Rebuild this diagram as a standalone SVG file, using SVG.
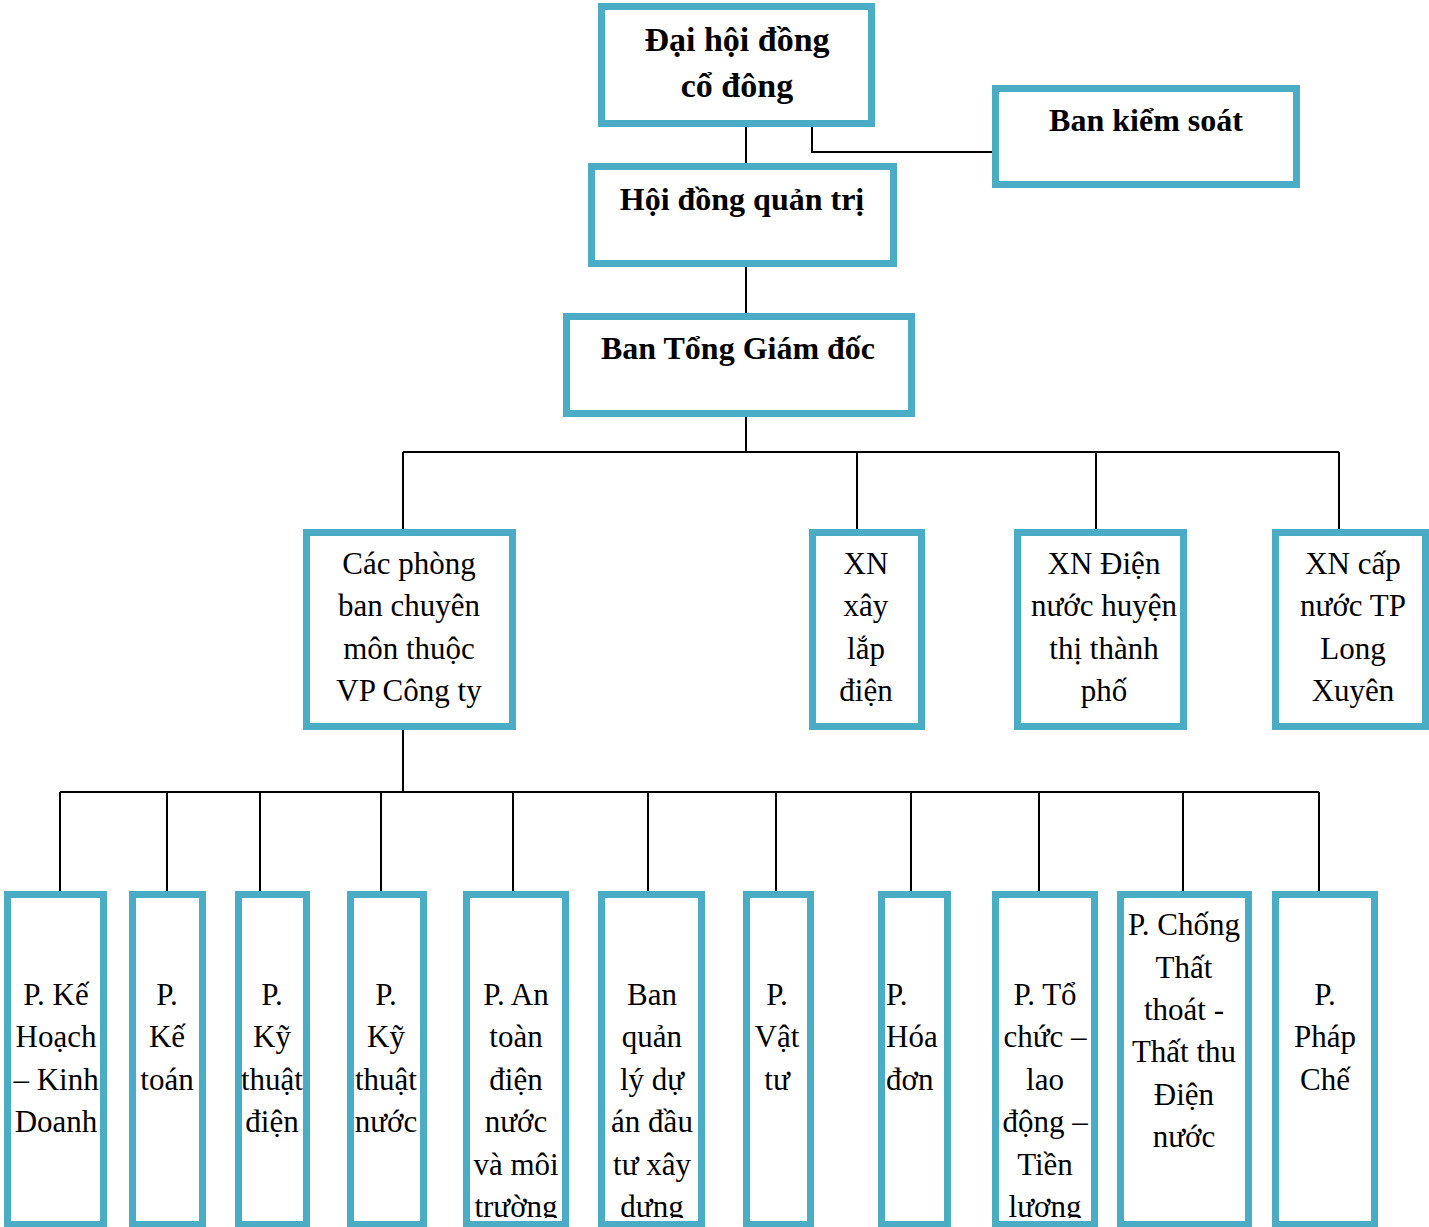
<svg xmlns="http://www.w3.org/2000/svg" width="1429" height="1227" viewBox="0 0 1429 1227">
<style>
.box{fill:#fff;stroke:#4BACC6;stroke-width:7}
.ln{fill:none;stroke:#000;stroke-width:2}
.b{font-family:"Liberation Serif","Times New Roman",serif;font-weight:bold;font-size:32px;fill:#000;text-anchor:middle}
.big{font-size:34px}
.r{font-family:"Liberation Serif","Times New Roman",serif;font-size:31px;fill:#000;text-anchor:middle}
.l{text-anchor:start}
</style>
<defs>
<clipPath id="clipB"><rect x="0" y="0" width="1429" height="1218"/></clipPath>
</defs>
<rect width="1429" height="1227" fill="#fff"/>
<g id="connectors">
<path class="ln" d="M746 127V163M812 127V152H995M746 267V313M746 416V452M403 452H1339M403 452V529M857 452V529M1096 452V529M1339 452V529"/>
<path class="ln" d="M403 730V792M60 792H1319M60 792V891M167 792V891M260 792V891M381 792V891M513 792V891M648 792V891M776 792V891M911 792V891M1039 792V891M1183 792V891M1319 792V891"/>
</g>
<g id="dhdcd"><rect class="box" x="601.5" y="6.5" width="270" height="117"/><text class="b big" x="737" y="51">Đại hội đồng</text><text class="b big" x="737" y="97">cổ đông</text></g>
<g id="bks"><rect class="box" x="995.5" y="88.5" width="301" height="96"/><text class="b" x="1146" y="131">Ban kiểm soát</text></g>
<g id="hdqt"><rect class="box" x="591.5" y="166.5" width="302" height="97"/><text class="b" x="742" y="210">Hội đồng quản trị</text></g>
<g id="btgd"><rect class="box" x="566.5" y="316.5" width="345" height="97"/><text class="b" x="738" y="359">Ban Tổng Giám đốc</text></g>
<g id="cacphong"><rect class="box" x="306.5" y="532.5" width="206" height="194"/><text class="r" x="409"><tspan x="409" y="574">Các phòng</tspan><tspan x="409" y="616">ban chuyên</tspan><tspan x="409" y="659">môn thuộc</tspan><tspan x="409" y="701">VP Công ty</tspan></text></g>
<g id="xnxl"><rect class="box" x="812.5" y="532.5" width="109" height="194"/><text class="r"><tspan x="866" y="574">XN</tspan><tspan x="866" y="616">xây</tspan><tspan x="866" y="659">lắp</tspan><tspan x="866" y="701">điện</tspan></text></g>
<g id="xnd"><rect class="box" x="1017.5" y="532.5" width="166" height="194"/><text class="r"><tspan x="1104" y="574">XN Điện</tspan><tspan x="1104" y="616">nước huyện</tspan><tspan x="1104" y="659">thị thành</tspan><tspan x="1104" y="701">phố</tspan></text></g>
<g id="xncn"><rect class="box" x="1275.5" y="532.5" width="150" height="194"/><text class="r"><tspan x="1353" y="574">XN cấp</tspan><tspan x="1353" y="616">nước TP</tspan><tspan x="1353" y="659">Long</tspan><tspan x="1353" y="701">Xuyên</tspan></text></g>
<g id="bottom-boxes">
<g id="pkh"><rect class="box" x="7.5" y="894.5" width="96" height="330"/><text class="r" clip-path="url(#clipB)"><tspan x="56" y="1005">P. Kế</tspan><tspan x="56" y="1047">Hoạch</tspan><tspan x="56" y="1090">– Kinh</tspan><tspan x="56" y="1132">Doanh</tspan></text></g>
<g id="pkt"><rect class="box" x="132.5" y="894.5" width="70" height="330"/><text class="r" clip-path="url(#clipB)"><tspan x="167" y="1005">P.</tspan><tspan x="167" y="1047">Kế</tspan><tspan x="167" y="1090">toán</tspan></text></g>
<g id="pktd"><rect class="box" x="238.5" y="894.5" width="68" height="330"/><text class="r" clip-path="url(#clipB)"><tspan x="272" y="1005">P.</tspan><tspan x="272" y="1047">Kỹ</tspan><tspan x="272" y="1090">thuật</tspan><tspan x="272" y="1132">điện</tspan></text></g>
<g id="pktn"><rect class="box" x="350.5" y="894.5" width="73" height="330"/><text class="r" clip-path="url(#clipB)"><tspan x="386" y="1005">P.</tspan><tspan x="386" y="1047">Kỹ</tspan><tspan x="386" y="1090">thuật</tspan><tspan x="386" y="1132">nước</tspan></text></g>
<g id="pat"><rect class="box" x="466.5" y="894.5" width="99" height="330"/><text class="r" clip-path="url(#clipB)"><tspan x="516" y="1005">P. An</tspan><tspan x="516" y="1047">toàn</tspan><tspan x="516" y="1090">điện</tspan><tspan x="516" y="1132">nước</tspan><tspan x="516" y="1175">và môi</tspan><tspan x="516" y="1217">trường</tspan></text></g>
<g id="bql"><rect class="box" x="601.5" y="894.5" width="100" height="330"/><text class="r" clip-path="url(#clipB)"><tspan x="652" y="1005">Ban</tspan><tspan x="652" y="1047">quản</tspan><tspan x="652" y="1090">lý dự</tspan><tspan x="652" y="1132">án đầu</tspan><tspan x="652" y="1175">tư xây</tspan><tspan x="652" y="1217">dựng</tspan></text></g>
<g id="pvt"><rect class="box" x="746.5" y="894.5" width="64" height="330"/><text class="r" clip-path="url(#clipB)"><tspan x="777" y="1005">P.</tspan><tspan x="777" y="1047">Vật</tspan><tspan x="777" y="1090">tư</tspan></text></g>
<g id="phd"><rect class="box" x="881.5" y="894.5" width="66" height="330"/><text class="r l" clip-path="url(#clipB)"><tspan x="886" y="1005">P.</tspan><tspan x="886" y="1047">Hóa</tspan><tspan x="886" y="1090">đơn</tspan></text></g>
<g id="ptc"><rect class="box" x="995.5" y="894.5" width="99" height="330"/><text class="r" clip-path="url(#clipB)"><tspan x="1045" y="1005">P. Tổ</tspan><tspan x="1045" y="1047">chức –</tspan><tspan x="1045" y="1090">lao</tspan><tspan x="1045" y="1132">động –</tspan><tspan x="1045" y="1175">Tiền</tspan><tspan x="1045" y="1217">lương</tspan></text></g>
<g id="pct"><rect class="box" x="1120.5" y="894.5" width="128" height="330"/><text class="r" clip-path="url(#clipB)"><tspan x="1184" y="935">P. Chống</tspan><tspan x="1184" y="978">Thất</tspan><tspan x="1184" y="1020">thoát -</tspan><tspan x="1184" y="1062">Thất thu</tspan><tspan x="1184" y="1105">Điện</tspan><tspan x="1184" y="1147">nước</tspan></text></g>
<g id="ppc"><rect class="box" x="1275.5" y="894.5" width="99" height="330"/><text class="r" clip-path="url(#clipB)"><tspan x="1325" y="1005">P.</tspan><tspan x="1325" y="1047">Pháp</tspan><tspan x="1325" y="1090">Chế</tspan></text></g>
</g>
</svg>
